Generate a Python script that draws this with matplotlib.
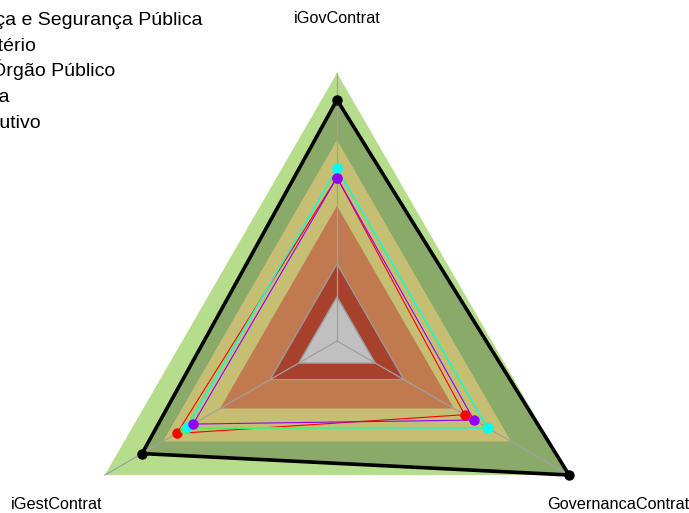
import numpy as np
import matplotlib
matplotlib.use("Agg")
import matplotlib.pyplot as plt
from matplotlib.patches import Polygon

plt.rcParams['font.family'] = ['Liberation Sans', 'DejaVu Sans']

categories = ["iGovContrat", "GovernancaContrat", "iGestContrat"]
series_names = ["Justiça e Segurança Pública", "Ministério", "Seu Órgão Público", "Média", "Executivo"]
series_colors = ["#ff0000", "#55ee55", "#00ffff", "#8f00ff", "#000000"]
red_vals = [0.61, 0.55, 0.69]
green_vals = [0.64, 0.645, 0.655]
cyan_vals = [0.645, 0.65, 0.645]
purple_vals = [0.61, 0.59, 0.62]
black_vals = [0.90, 1.0, 0.84]
series_vals = [red_vals, green_vals, cyan_vals, purple_vals, black_vals]

band_levels = [1.0, 0.75, 0.504, 0.288, 0.165]
band_colors = ["#b6dd8c", "#c6bf73", "#c17a4f", "#a8412b", "#c0c0c0"]
fill_color = "#8aaa6a"

W, H, DPI = 689, 513, 100
cx_px, cy_px, R_px = 337, 341, 268

fig = plt.figure(figsize=(W / DPI, H / DPI), dpi=DPI)
ax = fig.add_axes([0, 0, 1, 1])
ax.set_xlim(-cx_px / R_px, (W - cx_px) / R_px)
ax.set_ylim(-(H - cy_px) / R_px, cy_px / R_px)
ax.axis('off')

n = len(categories)
ang = np.deg2rad(90 - 360 / n * np.arange(n))


def xy(vals):
    v = np.asarray(vals, dtype=float)
    return np.column_stack([v * np.cos(ang), v * np.sin(ang)])


# outer band
ax.add_patch(Polygon(xy([band_levels[0]] * n), closed=True, facecolor=band_colors[0],
                     edgecolor='none', zorder=1))
# filled area of the black series
ax.add_patch(Polygon(xy(black_vals), closed=True, facecolor=fill_color,
                     edgecolor='none', zorder=2))
# inner bands
for lvl, col in zip(band_levels[1:], band_colors[1:]):
    ec = '#9a9a9a' if lvl < 0.3 else 'none'
    ax.add_patch(Polygon(xy([lvl] * n), closed=True, facecolor=col,
                         edgecolor=ec, lw=1.0, zorder=3))
# spokes
for a in ang:
    ax.plot([0, np.cos(a)], [0, np.sin(a)], color='#a0a0a0', lw=0.9, zorder=4)

# series
for name, col, vals in zip(series_names, series_colors, series_vals):
    p = xy(vals)
    p = np.vstack([p, p[:1]])
    lw = 2.6 if col == "#000000" else 0.8
    ax.plot(p[:, 0], p[:, 1], color=col, lw=lw, zorder=5, label=name)
    ax.plot(p[:-1, 0], p[:-1, 1], 'o', color=col, ms=6.5, zorder=6)

# axis labels
for cat, a in zip(categories, ang):
    ax.text(1.21 * np.cos(a), 1.21 * np.sin(a) - 6 / R_px, cat, ha='center',
            va='baseline', fontsize=11.7, zorder=7)

# legend (cut off at left edge)
legend_x_px = [-45, -48, -49, -44, -44]
for i, name in enumerate(series_names):
    y = 1 - (25 + 25.7 * i) / H
    fig.text(legend_x_px[i] / W, y, name, ha='left', va='baseline', fontsize=14,
             color='#000000')

fig.savefig("out.png", dpi=DPI)
